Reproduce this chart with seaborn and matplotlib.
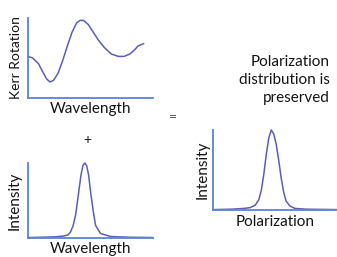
import matplotlib
matplotlib.use("Agg")
import matplotlib.pyplot as plt
import seaborn as sns
import pandas as pd

# Kerr rotation vs wavelength (arbitrary units, 0-100)
kerr_wl = [0, 4, 9, 13, 16, 19, 22, 26, 30, 34, 38, 42, 45, 48, 52, 56, 61, 66, 72, 78, 83, 88, 92, 95, 100]
kerr_rot = [52, 50, 43, 32, 24, 20, 22, 31, 47, 65, 82, 94, 97, 97, 92, 83, 72, 63, 55, 52, 52, 55, 60, 65, 68]

# Intensity spectrum vs wavelength (narrow peak)
spec_wl = [0, 11, 21, 28, 32, 34, 36, 38, 39.5, 41, 42.5, 44, 45.5, 47, 48.5, 50, 52, 54, 58, 66, 81, 100]
spec_int = [0.6, 1, 1.5, 2.5, 4, 8, 16, 30, 48, 67, 85, 97, 100, 96, 84, 62, 38, 17, 6, 2, 1, 0.6]

# Intensity vs polarization (same shape, wider scale)
pol_x = [0, 15, 25, 30, 34, 37, 39, 41, 43, 45, 47, 49, 51, 53, 55, 57, 59, 62, 66, 75, 100]
pol_int = [0.5, 1, 2, 3, 6, 13, 25, 45, 70, 90, 100, 95, 82, 62, 40, 22, 11, 5, 2, 1, 0.5]

W, H = 337, 257
line_col = "#5a5fb5"
axis_col = "#5b84d6"
text_col = "#141414"

sns.set_theme(style="white")
plt.rcParams["font.family"] = ["Lato", "DejaVu Sans"]

fig = plt.figure(figsize=(W / 100, H / 100), dpi=100)
fig.patch.set_facecolor("white")


def px_axes(x0, y0, x1, y1):
    return fig.add_axes([x0 / W, 1 - y1 / H, (x1 - x0) / W, (y1 - y0) / H])


def style(ax, xlabel, ylabel, xl_y, yl_x, ysize=11):
    ax.set_xticks([])
    ax.set_yticks([])
    ax.set_facecolor("none")
    for s in ["top", "right"]:
        ax.spines[s].set_visible(False)
    for s in ["left", "bottom"]:
        ax.spines[s].set_color(axis_col)
        ax.spines[s].set_linewidth(1.3)
    ax.set_xlabel(xlabel, fontsize=11, color=text_col)
    ax.set_ylabel(ylabel, fontsize=ysize, color=text_col)
    ax.xaxis.set_label_coords(0.5, xl_y)
    ax.yaxis.set_label_coords(yl_x, 0.5)
    for l in ax.lines:
        l.set_clip_on(False)


df_kerr = pd.DataFrame({"wl": kerr_wl, "rot": kerr_rot})
ax1 = px_axes(28, 18, 153, 98)
sns.lineplot(data=df_kerr, x="wl", y="rot", ax=ax1, color=line_col, lw=1.1)
ax1.set_xlim(0, 108)
ax1.set_ylim(0, 100)
style(ax1, "Wavelength", "Kerr Rotation", -0.05, -0.05, ysize=10)

df_spec = pd.DataFrame({"wl": spec_wl, "inten": spec_int})
ax2 = px_axes(28, 163, 153, 238)
sns.lineplot(data=df_spec, x="wl", y="inten", ax=ax2, color=line_col, lw=1.1)
ax2.set_xlim(0, 100)
ax2.set_ylim(0, 100)
style(ax2, "Wavelength", "Intensity", -0.05, -0.05)

df_pol = pd.DataFrame({"pol": pol_x, "inten": pol_int})
ax3 = px_axes(213, 130, 337, 210)
sns.lineplot(data=df_pol, x="pol", y="inten", ax=ax3, color=line_col, lw=1.1)
ax3.set_xlim(0, 100)
ax3.set_ylim(0, 100)
style(ax3, "Polarization", "Intensity", -0.06, -0.03)

fig.text(87 / W, 1 - 140 / H, "+", ha="center", va="center", fontsize=10, color=text_col)
fig.text(173 / W, 1 - 117 / H, "=", ha="center", va="center", fontsize=10, color="#555555")
fig.text(330 / W, 1 - 80 / H, "Polarization\ndistribution is\npreserved",
         ha="right", va="center", fontsize=11, color=text_col, linespacing=1.4)

fig.savefig("out.png", dpi=100, facecolor="white")
